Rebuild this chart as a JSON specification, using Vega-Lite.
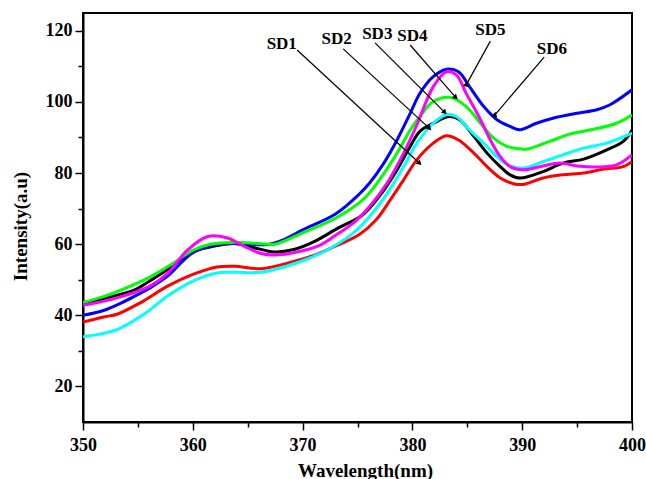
{
  "$schema": "https://vega.github.io/schema/vega-lite/v6.json",
  "width": 549,
  "height": 409,
  "autosize": "none",
  "padding": {"left": 83, "top": 13, "right": 14, "bottom": 57},
  "background": "white",
  "config": {
    "view": {"stroke": "black", "strokeWidth": 2},
    "font": "Liberation Serif",
    "axis": {
      "domainColor": "black", "domainWidth": 2, "tickColor": "black", "tickWidth": 1.5,
      "labelFont": "Liberation Serif", "labelFontWeight": "bold", "labelFontSize": 18, "labelColor": "black",
      "titleFont": "Liberation Serif", "titleFontWeight": "bold", "titleFontSize": 19, "titleColor": "black",
      "grid": false, "labelFlush": false, "labelOverlap": false
    }
  },
  "datasets": {
    "curves": [
      {"s":"SD1","w":350,"i":38.1},{"s":"SD1","w":352,"i":39.6},{"s":"SD1","w":353.1,"i":40.3},{"s":"SD1","w":355.2,"i":43.5},{"s":"SD1","w":357.7,"i":48.2},{"s":"SD1","w":360,"i":51.5},{"s":"SD1","w":362.2,"i":53.6},{"s":"SD1","w":363.8,"i":53.8},{"s":"SD1","w":366.2,"i":53.1},{"s":"SD1","w":368.3,"i":54.4},{"s":"SD1","w":370.8,"i":56.6},{"s":"SD1","w":372.6,"i":58.9},{"s":"SD1","w":375.2,"i":62.8},{"s":"SD1","w":376.7,"i":66.9},{"s":"SD1","w":378,"i":72.5},{"s":"SD1","w":379.2,"i":78.1},{"s":"SD1","w":380.4,"i":83.7},{"s":"SD1","w":381.9,"i":88.4},{"s":"SD1","w":383.1,"i":90.5},{"s":"SD1","w":384.2,"i":89.3},{"s":"SD1","w":385.6,"i":85.6},{"s":"SD1","w":386.8,"i":81.8},{"s":"SD1","w":388,"i":78.6},{"s":"SD1","w":389.2,"i":77.0},{"s":"SD1","w":390.1,"i":76.8},{"s":"SD1","w":391.9,"i":78.6},{"s":"SD1","w":393.7,"i":79.5},{"s":"SD1","w":395.6,"i":80.0},{"s":"SD1","w":397.4,"i":81.1},{"s":"SD1","w":399.2,"i":81.8},{"s":"SD1","w":400,"i":83.2},
      {"s":"SD2","w":350,"i":43.2},{"s":"SD2","w":352,"i":44.8},{"s":"SD2","w":354.6,"i":47.0},{"s":"SD2","w":356,"i":49.5},{"s":"SD2","w":358,"i":53.5},{"s":"SD2","w":360,"i":57.8},{"s":"SD2","w":362.2,"i":59.6},{"s":"SD2","w":363.8,"i":60.2},{"s":"SD2","w":365.6,"i":59.0},{"s":"SD2","w":367.4,"i":57.8},{"s":"SD2","w":369.2,"i":58.5},{"s":"SD2","w":371.1,"i":60.8},{"s":"SD2","w":373.1,"i":64.3},{"s":"SD2","w":375.5,"i":68.3},{"s":"SD2","w":377,"i":73.5},{"s":"SD2","w":378.6,"i":80.9},{"s":"SD2","w":379.8,"i":87.5},{"s":"SD2","w":380.7,"i":91.8},{"s":"SD2","w":381.9,"i":94.0},{"s":"SD2","w":383.4,"i":95.9},{"s":"SD2","w":384.3,"i":95.0},{"s":"SD2","w":385.6,"i":90.3},{"s":"SD2","w":386.8,"i":85.6},{"s":"SD2","w":388,"i":81.8},{"s":"SD2","w":388.9,"i":79.5},{"s":"SD2","w":389.8,"i":78.6},{"s":"SD2","w":391.9,"i":80.4},{"s":"SD2","w":393.7,"i":82.8},{"s":"SD2","w":395.6,"i":83.9},{"s":"SD2","w":397.7,"i":86.5},{"s":"SD2","w":399.2,"i":88.9},{"s":"SD2","w":400,"i":92.0},
      {"s":"SD6","w":350,"i":40.0},{"s":"SD6","w":352,"i":41.5},{"s":"SD6","w":353.5,"i":43.5},{"s":"SD6","w":354.6,"i":45.2},{"s":"SD6","w":356.1,"i":47.7},{"s":"SD6","w":357.7,"i":51.0},{"s":"SD6","w":360,"i":57.6},{"s":"SD6","w":362.2,"i":59.9},{"s":"SD6","w":363.8,"i":60.2},{"s":"SD6","w":366.8,"i":59.9},{"s":"SD6","w":368.3,"i":61.3},{"s":"SD6","w":370,"i":64.0},{"s":"SD6","w":373,"i":68.5},{"s":"SD6","w":375.1,"i":73.9},{"s":"SD6","w":376.1,"i":77.2},{"s":"SD6","w":377.4,"i":82.8},{"s":"SD6","w":378.6,"i":89.3},{"s":"SD6","w":379.8,"i":96.8},{"s":"SD6","w":380.7,"i":102.5},{"s":"SD6","w":381.9,"i":107.1},{"s":"SD6","w":383.1,"i":109.2},{"s":"SD6","w":384.2,"i":108.5},{"s":"SD6","w":385.2,"i":104.3},{"s":"SD6","w":386.5,"i":98.7},{"s":"SD6","w":387.7,"i":95.0},{"s":"SD6","w":388.9,"i":93.1},{"s":"SD6","w":389.8,"i":92.2},{"s":"SD6","w":391.3,"i":94.0},{"s":"SD6","w":392.8,"i":95.4},{"s":"SD6","w":395,"i":96.8},{"s":"SD6","w":396.8,"i":97.8},{"s":"SD6","w":398,"i":99.2},{"s":"SD6","w":400,"i":103.4},
      {"s":"SD4","w":350,"i":43.6},{"s":"SD4","w":352,"i":45.4},{"s":"SD4","w":354,"i":47.8},{"s":"SD4","w":356,"i":50.6},{"s":"SD4","w":358,"i":54.2},{"s":"SD4","w":360,"i":58.3},{"s":"SD4","w":361.5,"i":59.9},{"s":"SD4","w":363.5,"i":60.5},{"s":"SD4","w":366,"i":60.2},{"s":"SD4","w":367.5,"i":60.0},{"s":"SD4","w":370,"i":63.2},{"s":"SD4","w":373,"i":67.3},{"s":"SD4","w":375.5,"i":72.5},{"s":"SD4","w":377,"i":78.1},{"s":"SD4","w":378.6,"i":85.6},{"s":"SD4","w":379.8,"i":92.1},{"s":"SD4","w":380.7,"i":96.0},{"s":"SD4","w":381.9,"i":100.1},{"s":"SD4","w":383.4,"i":101.3},{"s":"SD4","w":384.9,"i":98.7},{"s":"SD4","w":386.2,"i":94.0},{"s":"SD4","w":387.4,"i":89.8},{"s":"SD4","w":388.6,"i":87.5},{"s":"SD4","w":389.8,"i":86.8},{"s":"SD4","w":390.4,"i":86.7},{"s":"SD4","w":392.5,"i":88.9},{"s":"SD4","w":394.4,"i":91.0},{"s":"SD4","w":396.5,"i":92.3},{"s":"SD4","w":398.6,"i":94.0},{"s":"SD4","w":400,"i":96.3},
      {"s":"SD3","w":350,"i":34.0},{"s":"SD3","w":353.1,"i":36.0},{"s":"SD3","w":355.5,"i":40.2},{"s":"SD3","w":357.7,"i":45.4},{"s":"SD3","w":360,"i":49.6},{"s":"SD3","w":362.2,"i":51.9},{"s":"SD3","w":363.8,"i":52.1},{"s":"SD3","w":366.2,"i":52.1},{"s":"SD3","w":368.3,"i":53.6},{"s":"SD3","w":370.5,"i":55.9},{"s":"SD3","w":372.6,"i":59.0},{"s":"SD3","w":374.6,"i":63.1},{"s":"SD3","w":376.1,"i":67.8},{"s":"SD3","w":377.7,"i":74.3},{"s":"SD3","w":379.2,"i":81.8},{"s":"SD3","w":380.4,"i":88.4},{"s":"SD3","w":381.9,"i":94.0},{"s":"SD3","w":383.1,"i":96.4},{"s":"SD3","w":384,"i":95.9},{"s":"SD3","w":385.2,"i":92.1},{"s":"SD3","w":386.5,"i":88.4},{"s":"SD3","w":387.7,"i":84.6},{"s":"SD3","w":388.9,"i":82.0},{"s":"SD3","w":390.1,"i":81.4},{"s":"SD3","w":391.9,"i":83.2},{"s":"SD3","w":393.7,"i":85.1},{"s":"SD3","w":395.6,"i":87.0},{"s":"SD3","w":397.7,"i":88.4},{"s":"SD3","w":400,"i":91.2},
      {"s":"SD5","w":350,"i":42.8},{"s":"SD5","w":353.1,"i":44.9},{"s":"SD5","w":356.1,"i":48.2},{"s":"SD5","w":357.7,"i":51.8},{"s":"SD5","w":359.5,"i":58.3},{"s":"SD5","w":361.3,"i":62.1},{"s":"SD5","w":363.1,"i":61.8},{"s":"SD5","w":364.7,"i":59.4},{"s":"SD5","w":366.2,"i":57.4},{"s":"SD5","w":367.7,"i":57.0},{"s":"SD5","w":369.8,"i":58.0},{"s":"SD5","w":371.7,"i":59.9},{"s":"SD5","w":373,"i":62.5},{"s":"SD5","w":374.6,"i":65.9},{"s":"SD5","w":376.1,"i":70.6},{"s":"SD5","w":377.7,"i":77.2},{"s":"SD5","w":379.2,"i":85.6},{"s":"SD5","w":380.4,"i":93.5},{"s":"SD5","w":381.9,"i":104.3},{"s":"SD5","w":383.1,"i":108.5},{"s":"SD5","w":384,"i":107.6},{"s":"SD5","w":384.9,"i":102.4},{"s":"SD5","w":386.2,"i":95.0},{"s":"SD5","w":387.1,"i":89.3},{"s":"SD5","w":388,"i":84.6},{"s":"SD5","w":388.9,"i":81.8},{"s":"SD5","w":390.1,"i":80.9},{"s":"SD5","w":391.9,"i":82.0},{"s":"SD5","w":393.4,"i":82.8},{"s":"SD5","w":395,"i":82.0},{"s":"SD5","w":396.8,"i":81.7},{"s":"SD5","w":398.6,"i":82.3},{"s":"SD5","w":400,"i":85.1}
    ],
    "notes": [
      {"label":"SD1","tx":368.1,"ty":116.3,"x1":369.5,"y1":114.6,"x2":380.6,"y2":82.9},
      {"label":"SD2","tx":373.1,"ty":117.7,"x1":373.7,"y1":114.9,"x2":381.5,"y2":92.7},
      {"label":"SD3","tx":376.8,"ty":119.1,"x1":376.6,"y1":116.6,"x2":382.9,"y2":97.2},
      {"label":"SD4","tx":380.0,"ty":118.5,"x1":379.8,"y1":116.0,"x2":383.9,"y2":101.4},
      {"label":"SD5","tx":387.1,"ty":120.2,"x1":387.1,"y1":117.1,"x2":384.9,"y2":104.8},
      {"label":"SD6","tx":392.7,"ty":114.9,"x1":392.0,"y1":112.6,"x2":387.5,"y2":96.3}
    ]
  },
  "layer": [
    {
      "data": {"name": "curves"},
      "mark": {"type": "line", "strokeWidth": 3, "interpolate": "catmull-rom", "clip": true},
      "encoding": {
        "x": {
          "field": "w", "type": "quantitative",
          "scale": {"domain": [350, 400], "nice": false, "zero": false},
          "axis": {
            "title": "Wavelength(nm)",
            "values": [350, 355, 360, 365, 370, 375, 380, 385, 390, 395, 400],
            "labelExpr": "datum.value % 10 === 0 ? datum.label : ''",
            "tickSize": {"condition": {"test": "datum.value % 10 !== 0", "value": 5}, "value": 8},
            "labelPadding": 6,
            "titlePadding": 7,
            "titleX": 282
          }
        },
        "y": {
          "field": "i", "type": "quantitative",
          "scale": {"domain": [10, 125], "nice": false, "zero": false},
          "axis": {
            "title": "Intensity(a.u)",
            "values": [20, 30, 40, 50, 60, 70, 80, 90, 100, 110, 120],
            "labelExpr": "datum.value % 20 === 0 ? datum.label : ''",
            "tickSize": {"condition": {"test": "datum.value % 20 !== 0", "value": 5}, "value": 8},
            "labelPadding": 3,
            "titlePadding": 15,
            "titleY": 213
          }
        },
        "color": {
          "field": "s", "type": "nominal",
          "scale": {"domain": ["SD1", "SD2", "SD3", "SD4", "SD5", "SD6"], "range": ["#ff0000", "#000000", "#00ffff", "#00ff00", "#ff00ff", "#0000ff"]},
          "legend": null
        }
      }
    },
    {
      "data": {"name": "notes"},
      "mark": {"type": "rule", "color": "black", "strokeWidth": 1.2},
      "encoding": {
        "x": {"field": "x1", "type": "quantitative"},
        "y": {"field": "y1", "type": "quantitative"},
        "x2": {"field": "x2"},
        "y2": {"field": "y2"}
      }
    },
    {
      "data": {"name": "notes"},
      "mark": {"type": "point", "shape": "triangle", "filled": true, "color": "black", "size": 35, "opacity": 1},
      "encoding": {
        "x": {"field": "x2", "type": "quantitative"},
        "y": {"field": "y2", "type": "quantitative"},
        "angle": {
          "field": "label", "type": "nominal",
          "scale": {"domain": ["SD1", "SD2", "SD3", "SD4", "SD5", "SD6"], "range": [133, 133, 135, 139, 209, 220]},
          "legend": null
        }
      }
    },
    {
      "data": {"name": "notes"},
      "mark": {"type": "text", "font": "Liberation Serif", "fontWeight": "bold", "fontSize": 17, "color": "black", "align": "center", "baseline": "middle"},
      "encoding": {
        "x": {"field": "tx", "type": "quantitative"},
        "y": {"field": "ty", "type": "quantitative"},
        "text": {"field": "label"}
      }
    }
  ]
}
